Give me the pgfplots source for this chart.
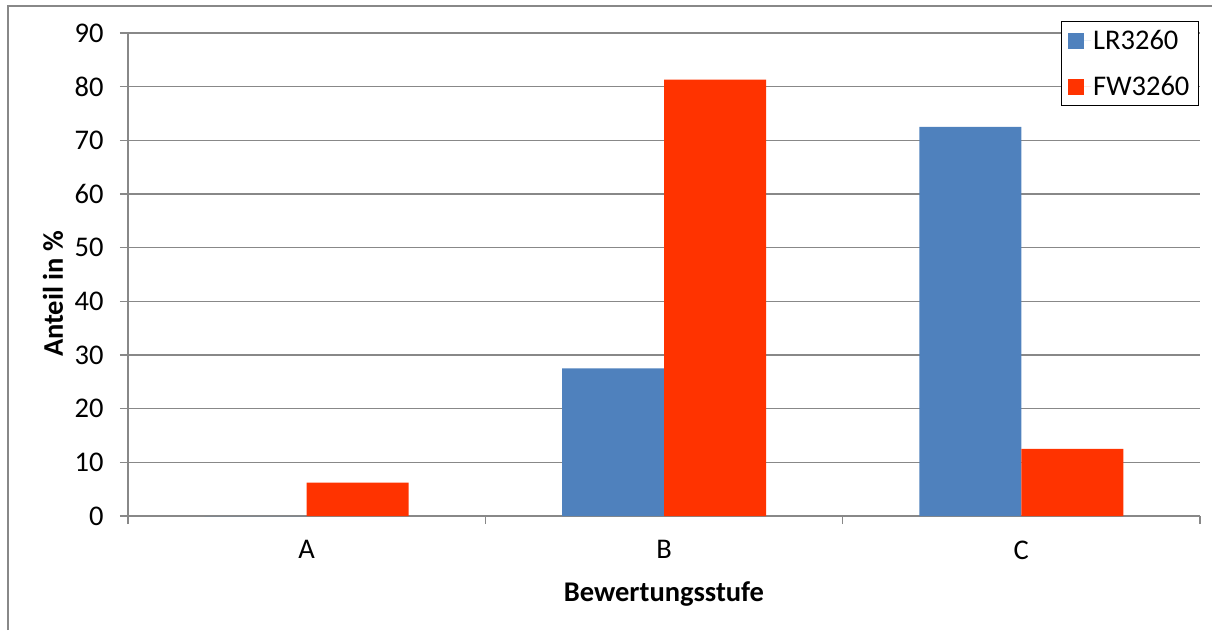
\documentclass[border=0pt]{standalone}
\usepackage{fontspec}
\setmainfont{Carlito}
\usepackage{pgfplots}
\pgfplotsset{compat=1.18}
\definecolor{lrblue}{HTML}{4F81BD}
\definecolor{fwred}{HTML}{FF3300}
\definecolor{axgray}{HTML}{888888}
\begin{document}
\begin{tikzpicture}[font=\fontsize{28.5}{34}\selectfont]
\useasboundingbox (-128pt,-114pt) rectangle (1084pt,516pt);
\draw[axgray, line width=1.2pt] (-120pt,-114pt) -- (-120pt,510pt) -- (1084pt,510pt);
\begin{axis}[
  scale only axis,
  width=1072pt, height=483pt,
  ybar=0pt, bar width=102pt,
  xmin=-0.5, xmax=2.5,
  ymin=0, ymax=90,
  ytick={0,10,...,90},
  xtick={-0.5,0.5,1.5,2.5},
  xticklabels={},
  extra x ticks={0,1,2},
  extra x tick labels={A,B,C},
  extra x tick style={major tick length=0pt, xticklabel style={yshift=-21pt}},
  tick align=outside,
  major tick length=8pt,
  tick style={axgray, line width=1.2pt},
  axis x line*=bottom,
  axis y line*=left,
  axis line style={axgray, line width=1.2pt, -},
  ymajorgrids,
  grid style={axgray, line width=1.2pt},
  /pgf/number format/assume math mode=true,
  yticklabel style={xshift=-13pt},
  xlabel={\textbf{Bewertungsstufe}},
  xlabel style={at={(axis description cs:0.5,0)}, anchor=center, yshift=-78pt},
  ylabel={\textbf{Anteil in \%}},
  ylabel style={at={(axis description cs:-0.07,0.46)}, anchor=center},
  legend style={at={(rel axis cs:0.999,1.025)}, anchor=north east, draw=black, line width=1pt, fill=white,
    font=\fontsize{28.5}{34}\selectfont,
    row sep=21pt, inner xsep=7pt, inner ysep=7pt, cells={anchor=west}},
]
\addplot[draw=none, fill=lrblue, legend image code/.code={\fill[lrblue] (0pt,-8pt) rectangle (16pt,8pt); \path (0pt,0pt) -- (23pt,0pt);}]
  coordinates {(0,0) (1,27.5) (2,72.5)};
\addplot[draw=none, fill=fwred, legend image code/.code={\fill[fwred] (0pt,-8pt) rectangle (16pt,8pt); \path (0pt,0pt) -- (23pt,0pt);}]
  coordinates {(0,6.2) (1,81.3) (2,12.5)};
\legend{LR3260,FW3260}
\end{axis}
\end{tikzpicture}
\end{document}
